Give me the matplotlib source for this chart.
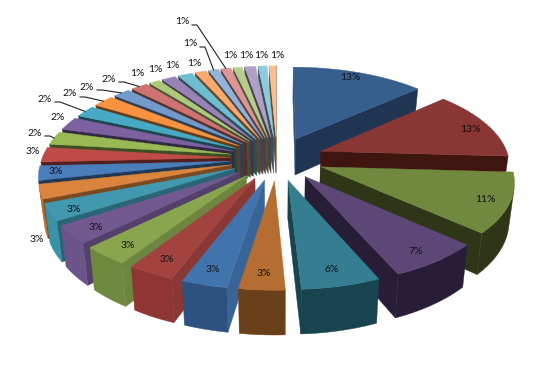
import numpy as np
import matplotlib
matplotlib.use('Agg')
import matplotlib.pyplot as plt

plt.rcParams['font.family'] = ['Lato', 'DejaVu Sans']

# percent share of every slice, clockwise from 12 o'clock
values = [13.3, 12.6, 10.8, 6.8, 5.7, 3.3, 3.3, 3.4, 3.4, 3.3, 3.1, 2.6, 2.6, 2.7, 2.4,
          2.4, 2.1, 2.1, 1.7, 1.7, 1.1, 1.4, 1.45, 1.15, 1.0, 1.0, 0.9, 1.1, 0.9, 0.7]
top_colors = ['#365F8E', '#8A3634', '#71893F', '#5C4776', '#357D91', '#B66D31',
              '#4174AC', '#A3433F', '#89A54E', '#71588F', '#4198AF', '#DB843D',
              '#4A7EBB', '#BE4B48', '#98B954', '#7D60A0', '#46AAC5', '#F69240',
              '#729ACA', '#CD7371', '#AFC97A', '#9983B5', '#6FBDD1', '#F9A96B',
              '#95B3D7', '#D99694', '#B9CE8C', '#AFA0C6', '#8ECADB', '#F9BE92']
rim_colors = ['#1F3552', '#3F1510', '#2F3618', '#281D36', '#17444F', '#6A401A',
              '#2E5280', '#8F3533', '#6F8A3E', '#6B5487', '#3A92A9', '#B8702F',
              '#3F6CA0', '#A0403D', '#80A046', '#6B5288', '#3C90A8', '#D07C36',
              '#6185AE', '#AE6260', '#95AB68', '#82709A', '#5EA0B1', '#D4905B',
              '#7F98B7', '#B87F7E', '#9DAF77', '#9588A8', '#79ABBA', '#D4A17C']
# label centres and which labels get a leader line (screen layout, px)
label_x = [350, 470, 485, 416, 332, 264, 213, 167, 128, 96, 74, 37, 56, 33, 35,
           58, 45, 70, 87, 109, 137, 155, 172, 194, 190, 182, 230, 246, 261, 277]
label_y = [78, 129, 200, 251, 270, 273, 269, 259, 245, 228, 209, 239, 171, 152, 133,
           118, 99, 94, 87, 79, 73, 69, 66, 63, 44, 22, 56, 56, 56, 56]
leaders = [14, 16, 17, 18, 19, 24, 25]

# camera model fitted to the picture
cx, cy = 277, 158.4
bx, ay = 188, 87
k = 0.14
height = 37
conv = 0.023
explode = 0.25


def proj(X, Y, z=0):
    s = 1 / (1 + k * Y)
    return cx + bx * X * s * (1 + conv * z), cy - ay * Y * s - height * s * z


def area(pts):
    x, y = np.array(pts).T
    return np.sum(x * np.roll(y, -1) - np.roll(x, -1) * y)


def darker(c, f):
    r = np.array(matplotlib.colors.to_rgb(c)) * f
    return tuple(r)


fig = plt.figure(figsize=(5.53, 3.73), dpi=100)
ax = fig.add_axes([0, 0, 1, 1])
ax.set_xlim(0, 553)
ax.set_ylim(373, 0)
ax.axis('off')

edges = np.concatenate([[0], np.cumsum(values)]) / np.sum(values) * 2 * np.pi
mids = (edges[:-1] + edges[1:]) / 2

order = np.argsort(-np.cos(mids))
for i in order:
    t0, t1, m = edges[i], edges[i + 1], mids[i]
    ox, oy = explode * np.sin(m), explode * np.cos(m)
    th = np.linspace(t0, t1, max(3, int(np.degrees(t1 - t0) / 1.5) + 2))
    rx, ry = ox + np.sin(th), oy + np.cos(th)

    # radial faces
    q0 = [proj(ox, oy, 0), proj(rx[0], ry[0], 0), proj(rx[0], ry[0], -1), proj(ox, oy, -1)]
    if area(q0) < 0:
        f = np.interp(np.degrees(t0), [180, 215, 240, 260, 360], [0.9, 0.8, 0.65, 0.42, 0.4])
        ax.fill(*zip(*q0), color=darker(top_colors[i], f), lw=0.3)
    q1 = [proj(ox, oy, 0), proj(rx[-1], ry[-1], 0), proj(rx[-1], ry[-1], -1), proj(ox, oy, -1)]
    if area(q1) > 0:
        ax.fill(*zip(*q1), color=rim_colors[i] if i < 6 else darker(top_colors[i], 0.45), lw=0.3)

    # outer rim, only the part that looks at the camera, as one polygon
    keep = [j for j in range(len(th) - 1)
            if area([proj(rx[j], ry[j], 0), proj(rx[j + 1], ry[j + 1], 0),
                     proj(rx[j + 1], ry[j + 1], -1), proj(rx[j], ry[j], -1)]) < 0]
    if keep:
        a, b = keep[0], keep[-1] + 2
        tx, ty = proj(rx[a:b], ry[a:b], 0)
        ux, uy = proj(rx[a:b], ry[a:b], -1)
        ax.fill(np.r_[tx, ux[::-1]], np.r_[ty, uy[::-1]], color=rim_colors[i], lw=0.3)

    # top
    px, py = proj(np.r_[ox, rx], np.r_[oy, ry], 0)
    ax.fill(px, py, color=top_colors[i], lw=0.3)

for i, v in enumerate(values):
    ax.text(label_x[i], label_y[i], '%d%%' % round(v), fontsize=7.5, ha='center', va='center',
            color='#111111', zorder=20)

for i in leaders:
    m = mids[i]
    ex, ey = proj(1.25 * np.sin(m), 1.25 * np.cos(m), 0)
    lx = label_x[i] + 10
    ax.plot([lx, lx + 5, ex], [label_y[i] + 3, label_y[i] + 3, ey], color='#222222', lw=0.8, zorder=19)

fig.savefig('out.png', dpi=100)
